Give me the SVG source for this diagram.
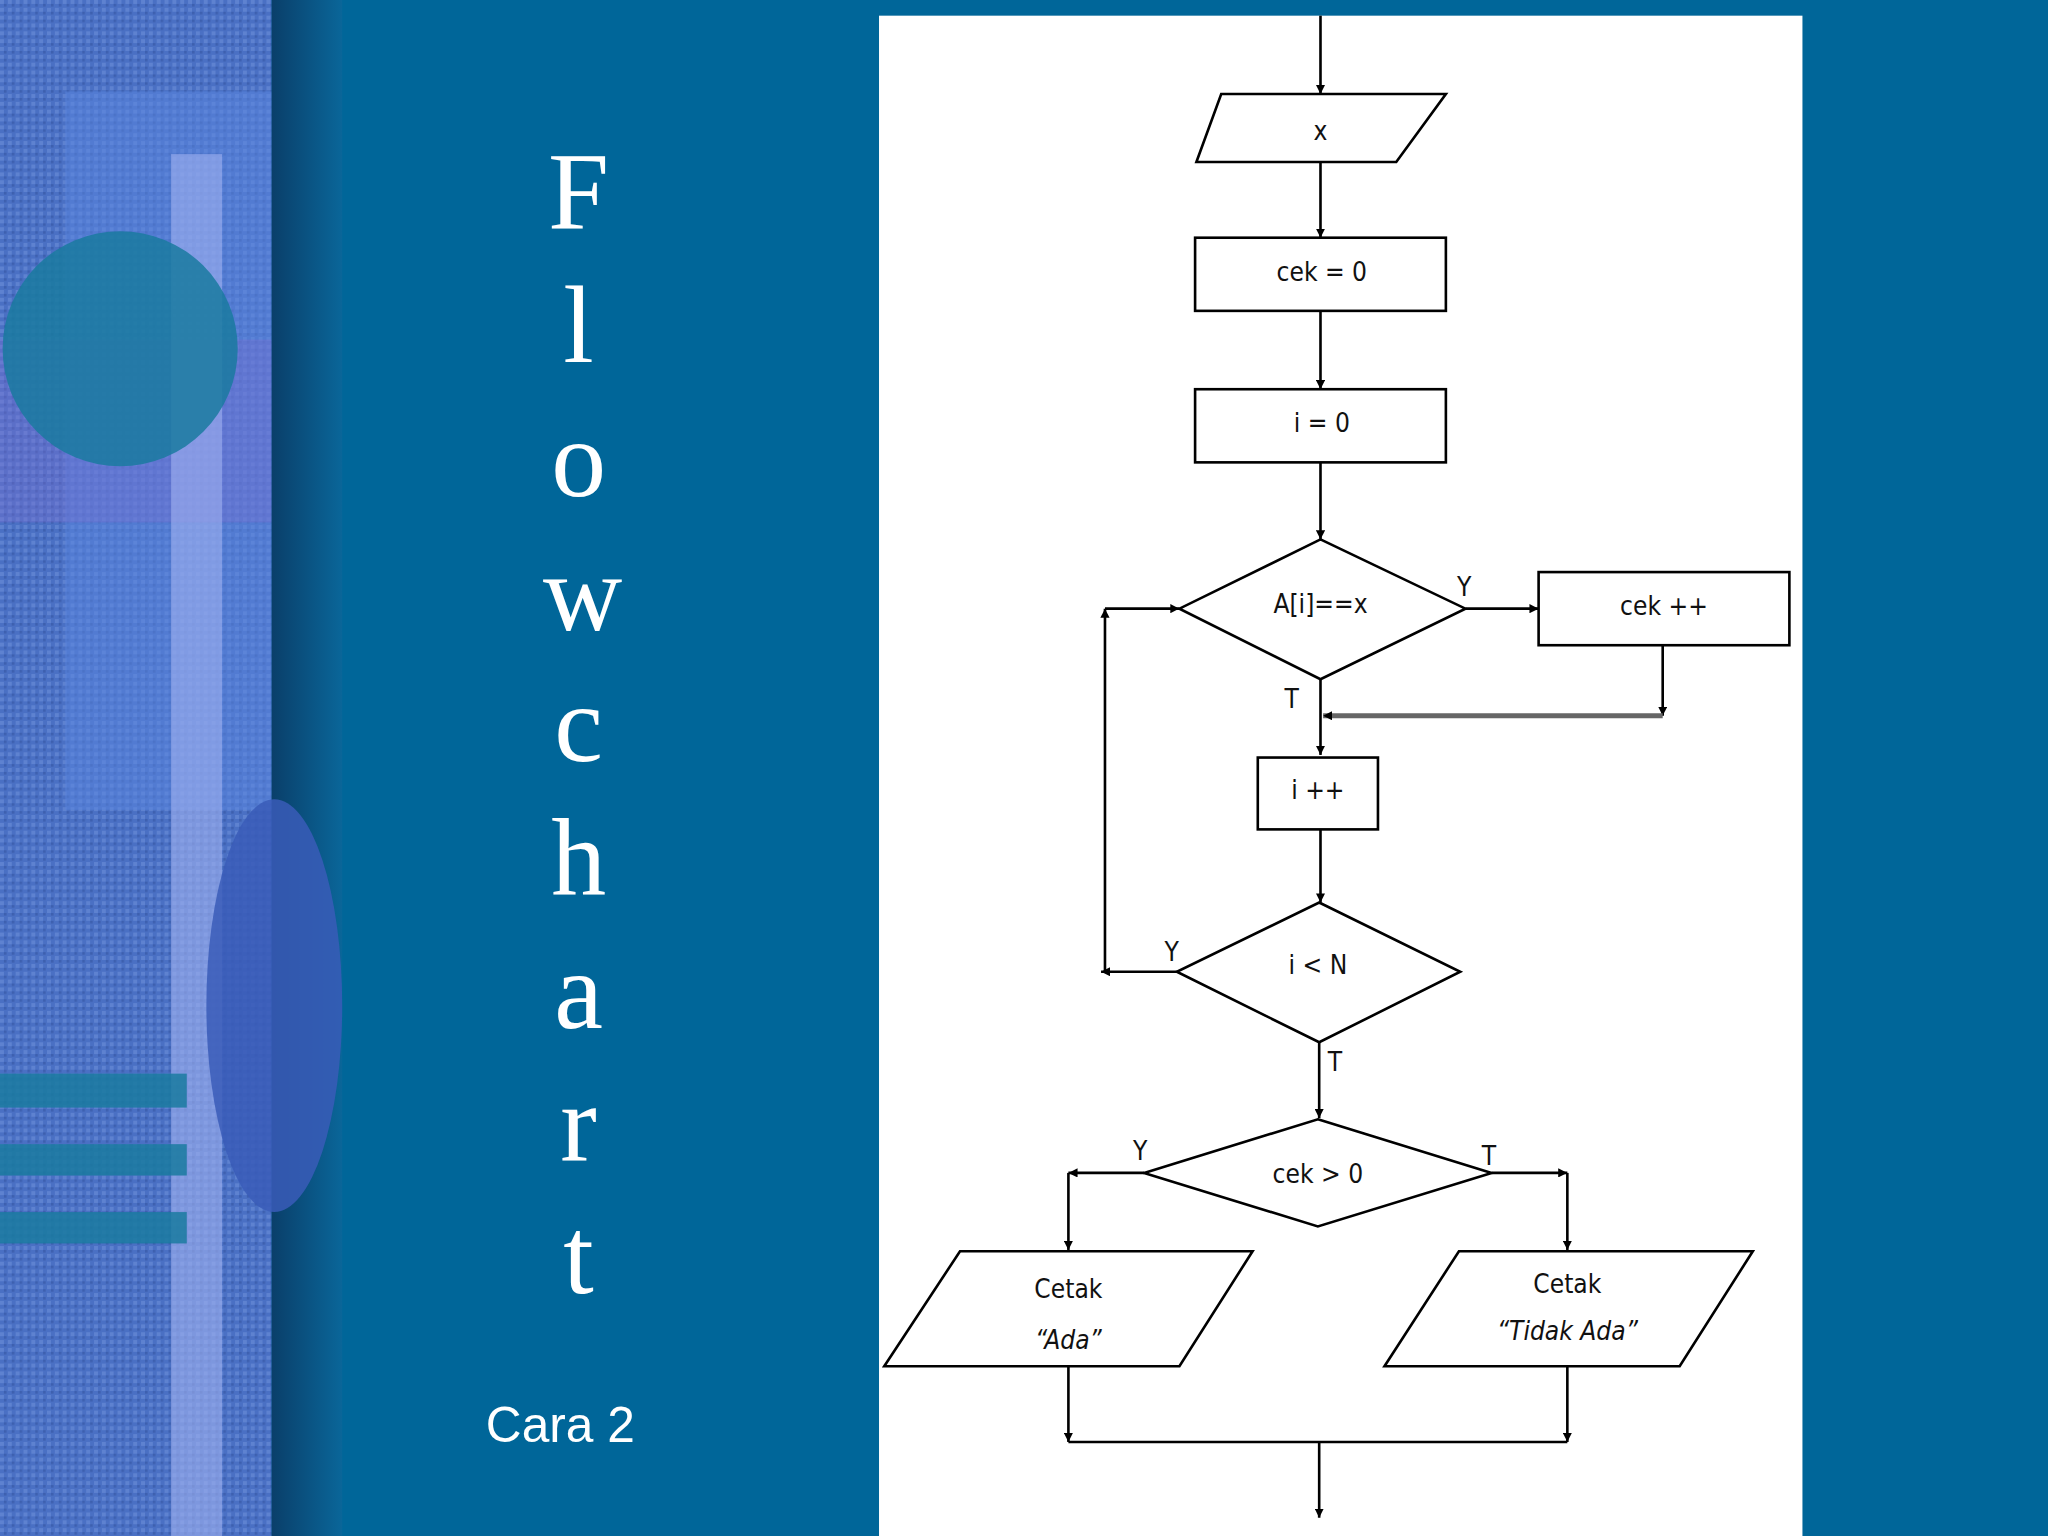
<svg xmlns="http://www.w3.org/2000/svg" width="2048" height="1536" viewBox="0 0 2048 1536">
<defs>
<style>
.s{fill:#fff;stroke:#000;stroke-width:2}
.c{stroke:#000;stroke-width:2;fill:none}
.t{font-family:"DejaVu Sans Condensed","Liberation Sans",sans-serif;font-size:20px;fill:#111;text-anchor:middle}
.L{font-family:"Liberation Serif",serif;font-size:84px;fill:#fff;text-anchor:middle}
</style>
<marker id="a" viewBox="0 0 10 10" refX="10" refY="5" markerWidth="7" markerHeight="7" orient="auto-start-reverse" markerUnits="userSpaceOnUse"><path d="M0,0L10,5L0,10z" fill="#000"/></marker>
<linearGradient id="g" x1="0" x2="1"><stop offset="0" stop-color="#0a3f6a"/><stop offset="1" stop-color="#0a6699"/></linearGradient>
<pattern id="p" width="6" height="6" patternUnits="userSpaceOnUse"><rect width="6" height="6" fill="#4a70c4"/><rect width="3" height="3" fill="#6a8ed8" opacity="0.6"/><rect x="3" y="3" width="2" height="2" fill="#2f4f9a" opacity="0.5"/></pattern>
</defs>
<g transform="scale(1.30612)">
<g id="background">
<rect width="1568" height="1176" fill="#006699"/>
<rect width="208" height="1176" fill="url(#p)"/>
<rect x="50" y="70" width="158" height="550" fill="#5a86e0" opacity="0.5"/>
<rect x="0" y="260" width="208" height="140" fill="#7a6cd0" opacity="0.35"/>
<rect x="131" y="118" width="39" height="1058" fill="#a0b0f0" opacity="0.6"/>
<circle cx="92" cy="267" r="90" fill="#1a7aa0" opacity="0.85"/>
<rect x="208" width="54" height="1176" fill="url(#g)"/>
<ellipse cx="210" cy="770" rx="52" ry="158" fill="#3a5cb8" opacity="0.85"/>
<rect x="0" y="822" width="143" height="26" fill="#1a7aa0" opacity="0.85"/>
<rect x="0" y="876" width="143" height="24" fill="#1a7aa0" opacity="0.85"/>
<rect x="0" y="928" width="143" height="24" fill="#1a7aa0" opacity="0.85"/>
<rect x="673" y="12" width="707" height="1164" fill="#fff"/>
</g>
<g id="title">
<text class="L" x="443" y="175">F</text>
<text class="L" x="443" y="277">l</text>
<text class="L" x="443" y="380">o</text>
<text class="L" x="446" y="482">w</text>
<text class="L" x="443" y="583">c</text>
<text class="L" x="443" y="685">h</text>
<text class="L" x="443" y="787">a</text>
<text class="L" x="443" y="888">r</text>
<text class="L" x="443" y="990">t</text>
<text x="429" y="1104" font-family="Liberation Sans,sans-serif" font-size="38" fill="#fff" text-anchor="middle">Cara 2</text>
</g>
<g id="connectors">
<path class="c" d="M1011,12V72" marker-end="url(#a)"/>
<path class="c" d="M1011,124V182" marker-end="url(#a)"/>
<path class="c" d="M1011,238V298" marker-end="url(#a)"/>
<path class="c" d="M1011,354V413" marker-end="url(#a)"/>
<path class="c" d="M1122,466H1178" marker-end="url(#a)"/>
<path class="c" d="M1273,494V548" marker-end="url(#a)"/>
<path d="M1273,548H1013" stroke="#666" stroke-width="4" fill="none" marker-end="url(#a)"/>
<path class="c" d="M1011,520V578" marker-end="url(#a)"/>
<path class="c" d="M1011,635V691" marker-end="url(#a)"/>
<path class="c" d="M901,744H843" marker-end="url(#a)"/>
<path class="c" d="M846,744V466" marker-end="url(#a)"/>
<path class="c" d="M846,466H903" marker-end="url(#a)"/>
<path class="c" d="M1010,798V856" marker-end="url(#a)"/>
<path class="c" d="M876,898H818" marker-end="url(#a)"/>
<path class="c" d="M818,898V957" marker-end="url(#a)"/>
<path class="c" d="M1142,898H1200" marker-end="url(#a)"/>
<path class="c" d="M1200,898V957" marker-end="url(#a)"/>
<path class="c" d="M818,1046V1104" marker-end="url(#a)"/>
<path class="c" d="M1200,1046V1104" marker-end="url(#a)"/>
<path class="c" d="M818,1104H1200"/>
<path class="c" d="M1010,1104V1162" marker-end="url(#a)"/>
<text class="t" x="1121" y="456">Y</text>
<text class="t" x="989" y="542">T</text>
<text class="t" x="897" y="736">Y</text>
<text class="t" x="1022" y="820">T</text>
<text class="t" x="873" y="888">Y</text>
<text class="t" x="1140" y="892">T</text>
</g>
<g id="n1"><polygon class="s" points="935,72 1107,72 1069,124 916,124"/><text class="t" x="1011" y="107">x</text></g>
<g id="n2"><rect class="s" x="915" y="182" width="192" height="56"/><text class="t" x="1012" y="215">cek = 0</text></g>
<g id="n3"><rect class="s" x="915" y="298" width="192" height="56"/><text class="t" x="1012" y="331">i = 0</text></g>
<g id="n4"><polygon class="s" points="1011,413 1122,466 1011,520 903,466"/><text class="t" x="1011" y="469">A[i]==x</text></g>
<g id="n5"><rect class="s" x="1178" y="438" width="192" height="56"/><text class="t" x="1274" y="471">cek ++</text></g>
<g id="n6"><rect class="s" x="963" y="580" width="92" height="55"/><text class="t" x="1009" y="612">i ++</text></g>
<g id="n7"><polygon class="s" points="1010,691 1118,744 1010,798 901,744"/><text class="t" x="1009" y="746">i &lt; N</text></g>
<g id="n8"><polygon class="s" points="1009,857 1142,898 1009,939 876,898"/><text class="t" x="1009" y="906">cek &gt; 0</text></g>
<g id="n9"><polygon class="s" points="735,958 959,958 903,1046 677,1046"/><text class="t" x="818" y="994">Cetak</text><text class="t" x="818" y="1033" font-style="italic">“Ada”</text></g>
<g id="n10"><polygon class="s" points="1117,958 1342,958 1286,1046 1060,1046"/><text class="t" x="1200" y="990">Cetak</text><text class="t" x="1200" y="1026" font-style="italic">“Tidak Ada”</text></g>
</g>
</svg>
